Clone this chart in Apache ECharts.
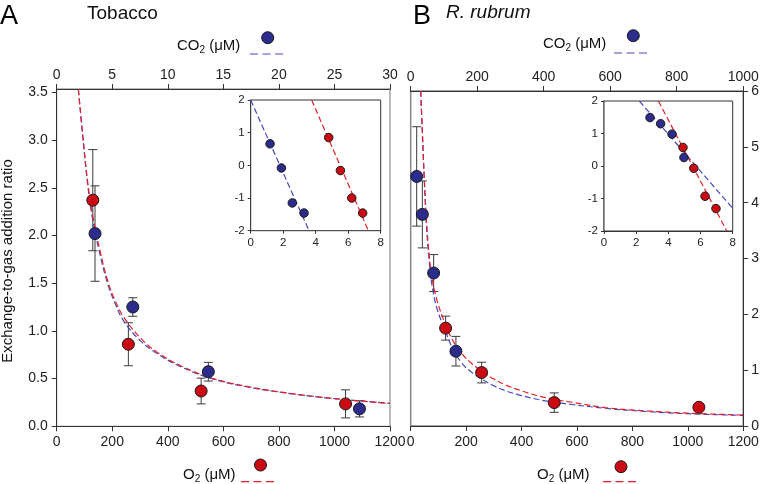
<!DOCTYPE html>
<html><head><meta charset="utf-8">
<script src="https://cdn.jsdelivr.net/npm/echarts@6/dist/echarts.min.js"></script>
<style>html,body{margin:0;padding:0;background:#fff}#c{width:762px;height:484px}</style>
</head><body><div id="c"></div>
<script>
// ---------- Panel A (Tobacco) ----------
const yTicksA = [0, 0.5, 1.0, 1.5, 2.0, 2.5, 3.0, 3.5];
const redA_O2 = [130, 258, 520, 1040];
const redA_y = [2.37, 0.86, 0.37, 0.235];
const redA_err = [0.53, 0.225, 0.135, 0.147];
const blueA_CO2 = [3.45, 6.85, 13.65, 27.25];
const blueA_y = [2.02, 1.25, 0.572, 0.183];
const blueA_err = [0.5, 0.097, 0.098, 0.085];
const redCurveA_x = [78, 94, 112, 130, 156, 184, 210, 240, 300, 360, 450, 564, 700, 840, 1000, 1200];
const redCurveA_y = [3.53, 3.05, 2.55, 2.2, 1.84, 1.52, 1.32, 1.15, 0.93, 0.78, 0.63, 0.5, 0.41, 0.345, 0.29, 0.24];
const blueCurveA_x = [1.95, 2.35, 2.8, 3.25, 3.9, 4.6, 5.25, 6, 7.5, 9, 11.25, 14.1, 17.5, 21, 25, 30];
const blueCurveA_y = [3.53, 3.03, 2.52, 2.16, 1.8, 1.49, 1.29, 1.11, 0.9, 0.765, 0.62, 0.495, 0.405, 0.343, 0.29, 0.24];
// inset A
const insetA_blue_x = [1.19, 1.89, 2.56, 3.28];
const insetA_blue_y = [0.66, -0.08, -1.15, -1.46];
const insetA_red_x = [4.8, 5.52, 6.22, 6.89];
const insetA_red_y = [0.85, -0.16, -1.0, -1.46];
const insetA_blueFit_x = [0, 3.59];
const insetA_blueFit_y = [2, -2];
const insetA_redFit_x = [3.75, 7.24];
const insetA_redFit_y = [2, -2];

// ---------- Panel B (R. rubrum) ----------
const redB_O2 = [126, 256, 518, 1040];
const redB_y = [1.753, 0.957, 0.419, 0.335];
const redB_err = [0.215, 0.185, 0.174, 0.06];
const blueB_CO2 = [18, 35, 69, 136];
const blueB_y = [4.47, 3.79, 2.74, 1.34];
const blueB_err = [0.89, 0.6, 0.33, 0.265];
const redCurveB_x = [36, 42, 49, 58, 67, 76, 95, 126, 150, 184, 220, 256, 300, 340, 400, 460, 520, 581, 701, 850, 1000, 1200];
const redCurveB_y = [6.0, 5.3, 4.45, 3.6, 3.05, 2.68, 2.25, 1.81, 1.55, 1.3, 1.12, 0.98, 0.84, 0.74, 0.63, 0.54, 0.475, 0.425, 0.33, 0.27, 0.23, 0.197];
const blueCurveB_x = [30, 35, 40.8, 48.3, 55.8, 63.3, 79.2, 103.3, 125, 153.3, 183.3, 213.3, 250, 283.3, 333.3, 383.3, 433.3, 484.2, 584.2, 708.3, 833.3, 1000];
const blueCurveB_y = [6.0, 5.25, 4.4, 3.5, 2.95, 2.55, 2.1, 1.72, 1.4, 1.13, 0.96, 0.84, 0.72, 0.635, 0.545, 0.475, 0.425, 0.385, 0.318, 0.26, 0.22, 0.19];
// inset B
const insetB_blue_x = [2.86, 3.52, 4.23, 4.97];
const insetB_blue_y = [1.49, 1.30, 0.98, 0.26];
const insetB_red_x = [4.91, 5.58, 6.28, 6.96];
const insetB_red_y = [0.57, -0.07, -0.93, -1.31];
const insetB_blueFit_x = [2.2, 8];
const insetB_blueFit_y = [2, -1.3];
const insetB_redFit_x = [3.38, 7.63];
const insetB_redFit_y = [2, -2];

// ---------- helpers / styles ----------
const FONT = 'Liberation Sans, Arial, Helvetica, sans-serif';
const BLUE = '#2c2c8c', RED = '#cc0a14';
const BLUE_L = '#4848bd', RED_L = '#e4202a';
const AX = '#333', LBL = '#222';
const zip = (xs, ys) => xs.map((x, i) => [x, ys[i]]);
const zip3 = (xs, ys, es) => xs.map((x, i) => [x, ys[i], es[i]]);

function axisStyle(fs, tickLen, margin) {
  return {
    axisLine: { show: true, onZero: false, lineStyle: { color: AX, width: 1 } },
    axisTick: { show: true, inside: false, length: tickLen, lineStyle: { color: AX, width: 1 } },
    axisLabel: { fontSize: fs, color: LBL, fontFamily: FONT, margin: margin, formatter: v => String(v) },
    splitLine: { show: false }
  };
}
function xAx(grid, pos, min, max, interval, fs, tl, mg, extra) {
  return Object.assign({ type: 'value', gridIndex: grid, position: pos, min: min, max: max, interval: interval }, axisStyle(fs, tl, mg), extra || {});
}
function yAx(grid, pos, min, max, interval, fs, tl, mg, extra) {
  return Object.assign({ type: 'value', gridIndex: grid, position: pos, min: min, max: max, interval: interval }, axisStyle(fs, tl, mg), extra || {});
}

const yA = yAx(0, 'left', 0, 3.535, 0.5, 14, 5, 9);
yA.axisLabel.customValues = yTicksA;
yA.axisLabel.formatter = v => v.toFixed(1);
yA.axisTick.customValues = yTicksA;

function errSeries(xi, yi, data) {
  return {
    type: 'custom', xAxisIndex: xi, yAxisIndex: yi, z: 2, data: data,
    encode: { x: 0, y: 1 },
    renderItem: function (params, api) {
      const x = api.value(0), y = api.value(1), e = api.value(2);
      const t = api.coord([x, y + e]), b = api.coord([x, y - e]);
      const hw = 4.5, st = { stroke: '#3a3a3a', lineWidth: 1 };
      return { type: 'group', children: [
        { type: 'line', shape: { x1: t[0], y1: t[1], x2: b[0], y2: b[1] }, style: st },
        { type: 'line', shape: { x1: t[0] - hw, y1: t[1], x2: t[0] + hw, y2: t[1] }, style: st },
        { type: 'line', shape: { x1: b[0] - hw, y1: b[1], x2: b[0] + hw, y2: b[1] }, style: st }
      ] };
    }
  };
}
function ptSeries(xi, yi, data, color, size) {
  return { type: 'scatter', xAxisIndex: xi, yAxisIndex: yi, z: 5, data: data, symbol: 'circle', symbolSize: size,
    itemStyle: { color: color, borderColor: '#1a1a1a', borderWidth: 1, opacity: 1 }, emphasis: { disabled: true } };
}
function lineSeries(xi, yi, data, color, smooth) {
  return { type: 'line', xAxisIndex: xi, yAxisIndex: yi, z: 3, data: data, showSymbol: false, symbol: 'none',
    smooth: smooth, clip: true, lineStyle: { color: color, width: 1.2, type: [6, 3] } };
}
const richSub = {
  n: { fontSize: 15, fontFamily: FONT, fill: '#111' },
  s: { fontSize: 10, fontFamily: FONT, padding: [9, 0, 0, 0], fill: '#111' }
};

const option = {
  animation: false,
  backgroundColor: '#fff',
  textStyle: { fontFamily: FONT },
  grid: [
    { left: 56.7, top: 89, width: 333.3, height: 337.3, show: true, borderColor: '#777', borderWidth: 1, backgroundColor: 'transparent' },
    { left: 410.7, top: 91, width: 332.6, height: 335, show: true, borderColor: '#888', borderWidth: 1.5, backgroundColor: 'transparent' },
    { left: 250.7, top: 100, width: 130, height: 130.7, show: true, borderColor: '#333', borderWidth: 1, backgroundColor: '#fff', z: 1 },
    { left: 604, top: 101, width: 128.7, height: 130, show: true, borderColor: '#333', borderWidth: 1, backgroundColor: '#fff', z: 1 }
  ],
  xAxis: [
    xAx(0, 'bottom', 0, 1200, 200, 14, 5, 9),
    xAx(0, 'top', 0, 30, 5, 14, 5, 7),
    xAx(1, 'bottom', 0, 1200, 200, 14, 5, 9),
    xAx(1, 'top', 0, 1000, 200, 14, 5, 7),
    xAx(2, 'bottom', 0, 8, 2, 11.5, 3, 6),
    xAx(3, 'bottom', 0, 8, 2, 11.5, 3, 6)
  ],
  yAxis: [
    yA,
    yAx(1, 'right', 0, 6, 1, 14, 5, 8),
    yAx(2, 'left', -2, 2, 1, 11.5, 3, 6),
    yAx(3, 'left', -2, 2, 1, 11.5, 3, 6, { axisLine: { show: true, onZero: false, lineStyle: { color: '#888', width: 1.5 } } })
  ],
  series: [
    // Panel A
    errSeries(0, 0, zip3(redA_O2, redA_y, redA_err)),
    errSeries(1, 0, zip3(blueA_CO2, blueA_y, blueA_err)),
    lineSeries(1, 0, zip(blueCurveA_x, blueCurveA_y), BLUE_L, 0.4),
    lineSeries(0, 0, zip(redCurveA_x, redCurveA_y), RED_L, 0.4),
    ptSeries(0, 0, zip(redA_O2, redA_y), RED, 12),
    ptSeries(1, 0, zip(blueA_CO2, blueA_y), BLUE, 12),
    // Panel B
    errSeries(2, 1, zip3(redB_O2, redB_y, redB_err)),
    errSeries(3, 1, zip3(blueB_CO2, blueB_y, blueB_err)),
    lineSeries(3, 1, zip(blueCurveB_x, blueCurveB_y), BLUE_L, 0.4),
    lineSeries(2, 1, zip(redCurveB_x, redCurveB_y), RED_L, 0.4),
    ptSeries(2, 1, zip(redB_O2, redB_y), RED, 12),
    ptSeries(3, 1, zip(blueB_CO2, blueB_y), BLUE, 12),
    // Inset A
    lineSeries(4, 2, zip(insetA_blueFit_x, insetA_blueFit_y), BLUE_L, false),
    lineSeries(4, 2, zip(insetA_redFit_x, insetA_redFit_y), RED_L, false),
    ptSeries(4, 2, zip(insetA_blue_x, insetA_blue_y), BLUE, 8.5),
    ptSeries(4, 2, zip(insetA_red_x, insetA_red_y), RED, 8.5),
    // Inset B
    lineSeries(5, 3, zip(insetB_blueFit_x, insetB_blueFit_y), BLUE_L, false),
    lineSeries(5, 3, zip(insetB_redFit_x, insetB_redFit_y), RED_L, false),
    ptSeries(5, 3, zip(insetB_blue_x, insetB_blue_y), BLUE, 8.5),
    ptSeries(5, 3, zip(insetB_red_x, insetB_red_y), RED, 8.5)
  ],
  graphic: [
    { type: 'text', left: 0, top: 3, style: { text: 'A', font: '27px ' + FONT, fill: '#000' } },
    { type: 'text', x: 87, y: 14, style: { text: 'Tobacco', font: '19px ' + FONT, fill: '#111', textVerticalAlign: 'middle' } },
    { type: 'text', x: 413, y: 3, style: { text: 'B', font: '27px ' + FONT, fill: '#000' } },
    { type: 'text', x: 446, y: 13, style: { text: 'R. rubrum', font: 'italic 19px ' + FONT, fill: '#111', textVerticalAlign: 'middle' } },
    { type: 'text', x: 8, y: 261, rotation: Math.PI / 2,
      style: { text: 'Exchange-to-gas addition ratio', font: '15px ' + FONT, fill: '#111', textAlign: 'center', textVerticalAlign: 'middle' } },
    // CO2 legends
    { type: 'text', x: 177, y: 46, style: { text: '{n|CO}{s|2}{n| (μM)}', fill: '#111', textVerticalAlign: 'middle', rich: richSub } },
    { type: 'circle', shape: { cx: 267.7, cy: 37.7, r: 6 }, style: { fill: BLUE, stroke: '#1a1a1a', lineWidth: 1 } },
    { type: 'line', shape: { x1: 250, y1: 54, x2: 283, y2: 54 }, style: { stroke: BLUE_L, lineWidth: 1.2, lineDash: [8, 4.5] } },
    { type: 'text', x: 543, y: 44, style: { text: '{n|CO}{s|2}{n| (μM)}', fill: '#111', textVerticalAlign: 'middle', rich: richSub } },
    { type: 'circle', shape: { cx: 633.3, cy: 35.7, r: 6 }, style: { fill: BLUE, stroke: '#1a1a1a', lineWidth: 1 } },
    { type: 'line', shape: { x1: 614, y1: 53, x2: 648, y2: 53 }, style: { stroke: BLUE_L, lineWidth: 1.2, lineDash: [8, 4.5] } },
    // O2 legends
    { type: 'text', x: 183, y: 475, style: { text: '{n|O}{s|2}{n| (μM)}', fill: '#111', textVerticalAlign: 'middle', rich: richSub } },
    { type: 'circle', shape: { cx: 260.5, cy: 465, r: 6 }, style: { fill: RED, stroke: '#1a1a1a', lineWidth: 1 } },
    { type: 'line', shape: { x1: 241, y1: 481.7, x2: 275, y2: 481.7 }, style: { stroke: RED_L, lineWidth: 1.2, lineDash: [8, 4.5] } },
    { type: 'text', x: 537, y: 475, style: { text: '{n|O}{s|2}{n| (μM)}', fill: '#111', textVerticalAlign: 'middle', rich: richSub } },
    { type: 'circle', shape: { cx: 621, cy: 466.7, r: 6 }, style: { fill: RED, stroke: '#1a1a1a', lineWidth: 1 } },
    { type: 'line', shape: { x1: 603, y1: 481.7, x2: 637, y2: 481.7 }, style: { stroke: RED_L, lineWidth: 1.2, lineDash: [8, 4.5] } }
  ]
};
const chart = echarts.init(document.getElementById('c'), null, { renderer: 'canvas' });
chart.setOption(option);
</script></body></html>
